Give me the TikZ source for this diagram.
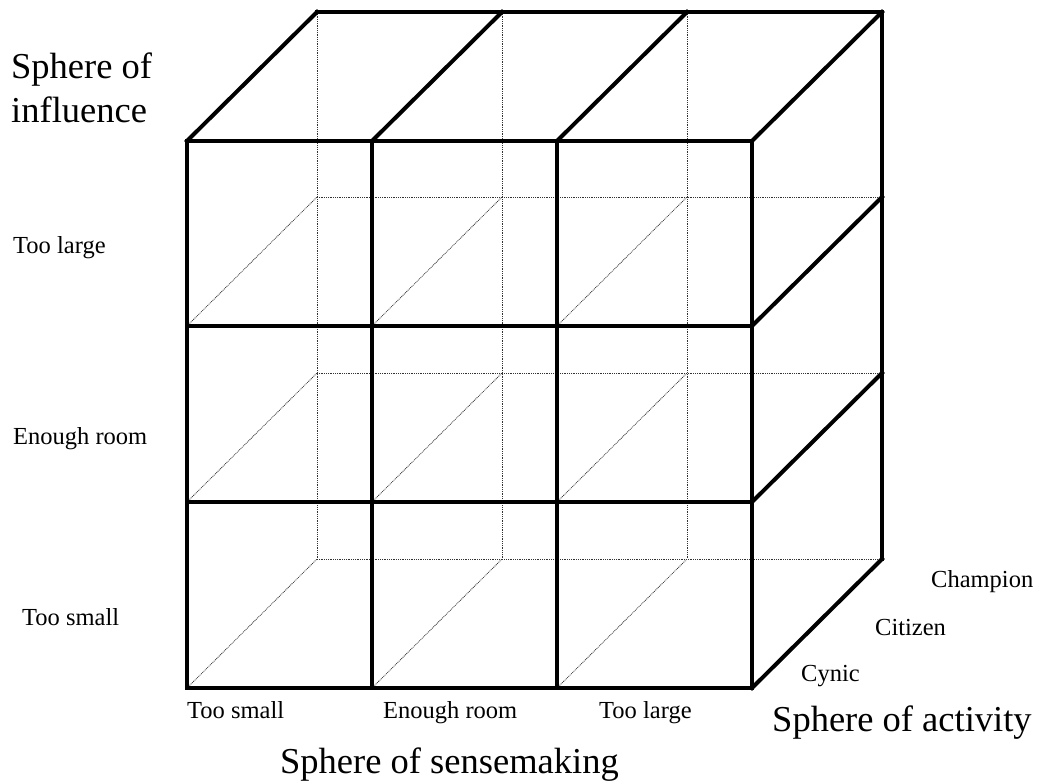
\documentclass[tikz,border=0pt]{standalone}
\usepackage{fontspec}
\setmainfont{Liberation Serif}
\begin{document}
\begin{tikzpicture}[x=1pt,y=-1pt,
  thickline/.style={line width=4pt,line join=miter,line cap=rect},
  hidden/.style={line width=0.8pt,black!80,dash pattern=on 0.9pt off 0.9pt},
  small/.style={font=\fontsize{24.5}{29}\selectfont,inner sep=0pt,anchor=base west},
  big/.style={font=\fontsize{36.5}{44}\selectfont,inner sep=0pt,anchor=base west}]
\useasboundingbox (0,0) rectangle (1039,783);
\foreach \i/\x in {0/187,1/372,2/557,3/752}{
  \foreach \j/\y in {0/141,1/326,2/502,3/688}{
    \coordinate (f\i\j) at (\x,\y);
    \coordinate (b\i\j) at (\x+130,\y-129);
  }
}
% hidden lines
\foreach \i in {0,1,2}{
  \draw[hidden] (b\i0) -- (b\i3);
}
\foreach \j in {1,2,3}{
  \draw[hidden] (b0\j) -- (b3\j);
  \foreach \i in {0,1,2}{
    \draw[hidden] (f\i\j) -- (b\i\j);
  }
}
% front face
\foreach \i in {0,1,2,3}{
  \draw[thickline] (f\i0) -- (f\i3);
}
\foreach \j in {0,1,2,3}{
  \draw[thickline] (f0\j) -- (f3\j);
}
% top face
\foreach \i in {0,1,2,3}{
  \draw[thickline] (f\i0) -- (b\i0);
}
\draw[thickline] (b00) -- (b30) -- (b33);
% right face
\foreach \j in {1,2,3}{
  \draw[thickline] (f3\j) -- (b3\j);
}
% labels
\node[big] (soi1) at (11,79) {Sphere of};
\node[big] (soi2) at (11,123) {influence};
\node[small] (ytl) at (13,254) {Too large};
\node[small] (yer) at (13,444) {Enough room};
\node[small] (yts) at (22,625) {Too small};
\node[small] (xts) at (187,718) {Too small};
\node[small] (xer) at (383,718) {Enough room};
\node[small] (xtl) at (599,718) {Too large};
\node[big] (sos) at (280,773) {Sphere of sensemaking};
\node[small] (zcy) at (801,681) {Cynic};
\node[small] (zci) at (875,635) {Citizen};
\node[small] (zch) at (931,587) {Champion};
\node[big] (soa) at (772,731) {Sphere of activity};
\end{tikzpicture}
\end{document}
